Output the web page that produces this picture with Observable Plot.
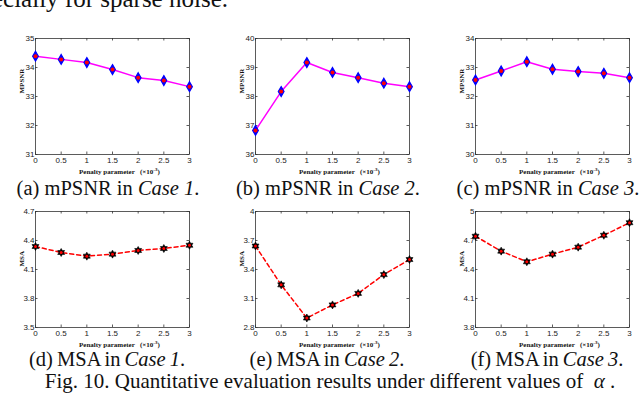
<!DOCTYPE html>
<html>
<head>
<meta charset="utf-8">
<script src="https://cdn.jsdelivr.net/npm/d3@7"></script>
<script src="https://cdn.jsdelivr.net/npm/@observablehq/plot@0.6"></script>
<style>
  html, body { margin: 0; padding: 0; background: #fff; }
  #fig { position: relative; width: 640px; height: 398px; overflow: hidden; background: #fff; }
  #fig > svg.panel { position: absolute; }
  #overlay { position: absolute; left: 0; top: 0; }
</style>
</head>
<body>
<div id="fig"></div>
<script>
// ---- data ----
const xValues = [0, 0.5, 1, 1.5, 2, 2.5, 3];
const xTickLabels = ["0", "0.5", "1", "1.5", "2", "2.5", "3"];

const mpsnrCase1 = [34.39, 34.28, 34.17, 33.93, 33.65, 33.55, 33.34];
const mpsnrCase2 = [36.83, 38.17, 39.17, 38.83, 38.65, 38.46, 38.34];
const mpsnrCase3 = [32.57, 32.88, 33.20, 32.94, 32.86, 32.80, 32.65];
const msaCase1 = [4.338, 4.276, 4.238, 4.259, 4.297, 4.317, 4.351];
const msaCase2 = [3.643, 3.241, 2.898, 3.034, 3.153, 3.347, 3.503];
const msaCase3 = [4.744, 4.590, 4.480, 4.559, 4.631, 4.754, 4.884];

const mpsnrTicks1 = [31, 32, 33, 34, 35];
const mpsnrTicks2 = [36, 37, 38, 39, 40];
const mpsnrTicks3 = [30, 31, 32, 33, 34];
const msaTicks1 = [3.5, 3.8, 4.1, 4.4, 4.7];
const msaTicks2 = [2.8, 3.1, 3.4, 3.7, 4];
const msaTicks3 = [3.8, 4.1, 4.4, 4.7, 5];

const yLabels = ["MPSNR", "MSA"];
const xLabelMain = "Penalty parameter";
const xLabelUnit = "(\u00d710";
const xLabelExp = "-3";
const panelLetters = ["(a)", "(b)", "(c)", "(d)", "(e)", "(f)"];
const panelMetrics = ["mPSNR", "mPSNR", "mPSNR", "MSA", "MSA", "MSA"];
const panelCases = ["Case 1", "Case 2", "Case 3", "Case 1", "Case 2", "Case 3"];
const topText = "especially for sparse noise.";
const figCaption = "Fig. 10. Quantitative evaluation results under different values of\u00a0\u00a0";
const alphaSym = "\u03b1";

// ---- layout ----
const frameW = 154, frameH = 116;
const mL = 35, mR = 8, mT = 8, mB = 24;
const colFrameLeft = [35, 255, 475];
const rowFrameTop = [38, 211];
const tickLen = 2.5;

const hexagram = {
  draw(context, size) {
    const R = Math.sqrt(size / Math.PI) * 1.25;
    const r = R / Math.sqrt(3);
    for (let i = 0; i < 12; i++) {
      const a = (i * Math.PI) / 6 - Math.PI / 2;
      const rad = i % 2 === 0 ? R : r;
      const px = rad * Math.cos(a), py = rad * Math.sin(a);
      if (i === 0) context.moveTo(px, py); else context.lineTo(px, py);
    }
    context.closePath();
  }
};

const panels = [
  {vals: mpsnrCase1, ticks: mpsnrTicks1, kind: 0},
  {vals: mpsnrCase2, ticks: mpsnrTicks2, kind: 0},
  {vals: mpsnrCase3, ticks: mpsnrTicks3, kind: 0},
  {vals: msaCase1, ticks: msaTicks1, kind: 1},
  {vals: msaCase2, ticks: msaTicks2, kind: 1},
  {vals: msaCase3, ticks: msaTicks3, kind: 1}
];

const fig = document.getElementById("fig");

panels.forEach((p, i) => {
  const col = i % 3, row = Math.floor(i / 3);
  const data = xValues.map((x, j) => ({x, y: p.vals[j]}));
  const [y0, y1] = d3.extent(p.ticks);
  const [x0, x1] = d3.extent(xValues);
  const ty = (y1 - y0) * tickLen / frameH;
  const tx = (x1 - x0) * tickLen / frameW;
  const axisColor = "#333";

  const marks = [
    Plot.frame({stroke: axisColor, strokeWidth: 0.8}),
    Plot.ruleX(xValues, {x: d => d, y1: y0, y2: y0 + ty, stroke: axisColor, strokeWidth: 0.8}),
    Plot.ruleX(xValues, {x: d => d, y1: y1, y2: y1 - ty, stroke: axisColor, strokeWidth: 0.8}),
    Plot.ruleY(p.ticks, {y: d => d, x1: x0, x2: x0 + tx, stroke: axisColor, strokeWidth: 0.8}),
    Plot.ruleY(p.ticks, {y: d => d, x1: x1, x2: x1 - tx, stroke: axisColor, strokeWidth: 0.8}),
    Plot.axisX({ticks: xValues, tickFormat: (d, k) => xTickLabels[k], tickSize: 0, tickPadding: 3, label: null, fill: "#222"}),
    Plot.axisY({ticks: p.ticks, tickFormat: d => String(d), tickSize: 0, tickPadding: 1, label: null, fill: "#222"}),
    Plot.text([yLabels[p.kind]], {text: d => d, frameAnchor: "left", rotate: -90, dx: -14, dy: -3,
      fontFamily: "Liberation Serif", fontWeight: "bold", fontSize: 7, fill: "#111"})
  ];

  if (p.kind === 0) {
    marks.push(
      Plot.line(data, {x: "x", y: "y", stroke: "#ff00ff", strokeWidth: 1.5}),
      Plot.dot(data, {x: "x", y: "y", symbol: "diamond", r: 3, fill: "#0000ff", stroke: "#0000ff", strokeWidth: 1.2}),
      Plot.dot(data, {x: "x", y: "y", r: 2, fill: "#ff0000", stroke: "none"})
    );
  } else {
    marks.push(
      Plot.line(data, {x: "x", y: "y", stroke: "#ff0000", strokeWidth: 1.5, strokeDasharray: "4,3"}),
      Plot.dot(data, {x: "x", y: "y", symbol: hexagram, r: 3.2, fill: "#000", stroke: "#000", strokeWidth: 0.6}),
      Plot.dot(data, {x: "x", y: "y", r: 1.5, fill: "#ff0000", stroke: "none"})
    );
  }

  const svg = Plot.plot({
    width: mL + frameW + mR,
    height: mT + frameH + mB,
    marginLeft: mL, marginRight: mR, marginTop: mT, marginBottom: mB,
    x: {domain: [x0, x1]},
    y: {domain: [y0, y1]},
    style: {fontFamily: "Liberation Sans", fontSize: "8px", background: "transparent", overflow: "visible", color: "#222"},
    marks
  });
  svg.classList.add("panel");
  svg.style.left = (colFrameLeft[col] - mL) + "px";
  svg.style.top = (rowFrameTop[row] - mT) + "px";
  fig.appendChild(svg);
});

// ---- text overlay ----
const overlay = d3.select(fig).append("svg")
  .attr("id", "overlay").attr("width", 640).attr("height", 398)
  .style("font-family", "'Liberation Serif', serif")
  .style("pointer-events", "none");

overlay.append("text")
  .attr("x", 228).attr("y", 7).attr("text-anchor", "end")
  .attr("font-size", 25).attr("fill", "#111")
  .text(topText);

// x-axis labels
panels.forEach((p, i) => {
  const col = i % 3, row = Math.floor(i / 3);
  const lx = colFrameLeft[col] + 44;
  const by = rowFrameTop[row] + frameH + 19.5;
  const t = overlay.append("text")
    .attr("x", lx).attr("y", by).attr("text-anchor", "start")
    .attr("font-size", 7).attr("font-weight", "bold").attr("fill", "#111");
  t.append("tspan").text(xLabelMain + "\u00a0\u00a0\u00a0" + xLabelUnit);
  t.append("tspan").attr("font-size", 5).attr("dy", -3).text(xLabelExp);
  t.append("tspan").attr("dy", 3).text(")");
});

const capBaseline = [195, 366];
panels.forEach((p, i) => {
  const col = i % 3, row = Math.floor(i / 3);
  const cx = colFrameLeft[col] + frameW / 2 - (row === 0 ? 4 : 5);
  const t = overlay.append("text")
    .attr("x", cx).attr("y", capBaseline[row]).attr("text-anchor", "middle")
    .attr("font-size", 20.5).attr("fill", "#111")
    .attr("word-spacing", row === 0 ? 0 : -1);
  t.append("tspan").text(panelLetters[i] + " " + panelMetrics[i] + " in ");
  t.append("tspan").attr("font-style", "italic").text(panelCases[i]);
  t.append("tspan").text(".");
});

const fc = overlay.append("text")
  .attr("x", 330).attr("y", 388).attr("text-anchor", "middle")
  .attr("font-size", 21).attr("fill", "#111");
fc.append("tspan").text(figCaption);
fc.append("tspan").attr("font-style", "italic").text(alphaSym);
fc.append("tspan").text("\u00a0.");
</script>
</body>
</html>
